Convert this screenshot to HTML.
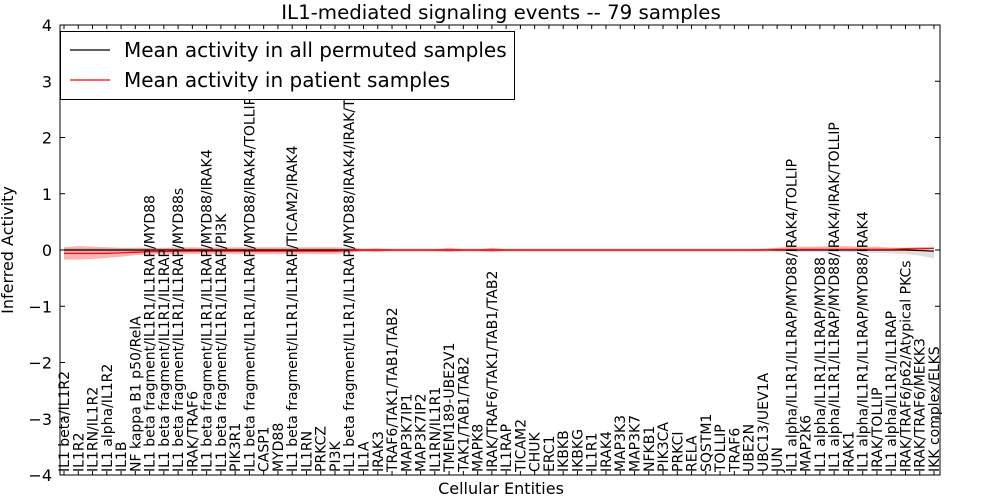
<!DOCTYPE html>
<html><head><meta charset="utf-8"><style>
html,body{margin:0;padding:0;background:#fff;}
svg{display:block;font-family:"DejaVu Sans","Liberation Sans",sans-serif;}
</style></head><body>
<svg id="chart" width="1000" height="500" xmlns="http://www.w3.org/2000/svg"></svg>
<script>
const categories=["IL1 beta/IL1R2","IL1R2","IL1RN/IL1R2","IL1 alpha/IL1R2","IL1B","NF kappa B1 p50/RelA","IL1 beta fragment/IL1R1/IL1RAP/MYD88","IL1 beta fragment/IL1R1/IL1RAP","IL1 beta fragment/IL1R1/IL1RAP/MYD88s","IRAK/TRAF6","IL1 beta fragment/IL1R1/IL1RAP/MYD88/IRAK4","IL1 beta fragment/IL1R1/IL1RAP/PI3K","PIK3R1","IL1 beta fragment/IL1R1/IL1RAP/MYD88/IRAK4/TOLLIP","CASP1","MYD88","IL1 beta fragment/IL1R1/IL1RAP/TICAM2/IRAK4","IL1RN","PRKCZ","PI3K","IL1 beta fragment/IL1R1/IL1RAP/MYD88/IRAK4/IRAK/TOLLIP","IL1A","IRAK3","TRAF6/TAK1/TAB1/TAB2","MAP3K7IP1","MAP3K7IP2","IL1RN/IL1R1","TMEM189-UBE2V1","TAK1/TAB1/TAB2","MAPK8","IRAK/TRAF6/TAK1/TAB1/TAB2","IL1RAP","TICAM2","CHUK","ERC1","IKBKB","IKBKG","IL1R1","IRAK4","MAP3K3","MAP3K7","NFKB1","PIK3CA","PRKCI","RELA","SQSTM1","TOLLIP","TRAF6","UBE2N","UBC13/UEV1A","JUN","IL1 alpha/IL1R1/IL1RAP/MYD88/IRAK4/TOLLIP","MAP2K6","IL1 alpha/IL1R1/IL1RAP/MYD88","IL1 alpha/IL1R1/IL1RAP/MYD88/IRAK4/IRAK/TOLLIP","IRAK1","IL1 alpha/IL1R1/IL1RAP/MYD88/IRAK4","IRAK/TOLLIP","IL1 alpha/IL1R1/IL1RAP","IRAK/TRAF6/p62/Atypical PKCs","IRAK/TRAF6/MEKK3","IKK complex/ELKS"];
const permMean=[0,0,0,0,0,0,0,0,0,0,0,0,0,0,0,0,0,0,0,0,0,0,0,0,0,0,0,0,0,0,0,0,0,0,0,0,0,0,0,0,0,0,0,0,0,0,0,0,0,0,0,0,0,0,0,0,0,0,0,0,-0.01,-0.02];
const permLow=[-0.03,-0.03,-0.03,-0.03,-0.03,-0.03,-0.03,-0.03,-0.03,-0.03,-0.03,-0.03,-0.03,-0.03,-0.03,-0.03,-0.03,-0.03,-0.03,-0.03,-0.03,-0.04,-0.04,-0.04,-0.04,-0.04,-0.04,-0.04,-0.04,-0.04,-0.04,-0.04,-0.04,-0.04,-0.04,-0.04,-0.04,-0.04,-0.04,-0.04,-0.04,-0.04,-0.04,-0.04,-0.04,-0.04,-0.04,-0.04,-0.04,-0.04,-0.04,-0.04,-0.04,-0.04,-0.04,-0.04,-0.05,-0.05,-0.06,-0.07,-0.1,-0.15];
const permHigh=[0.03,0.03,0.03,0.03,0.03,0.03,0.03,0.03,0.03,0.03,0.03,0.03,0.03,0.03,0.03,0.03,0.03,0.03,0.03,0.03,0.03,0.03,0.03,0.03,0.03,0.03,0.03,0.03,0.03,0.03,0.03,0.03,0.03,0.03,0.03,0.03,0.03,0.03,0.03,0.03,0.03,0.03,0.03,0.03,0.03,0.03,0.03,0.03,0.03,0.03,0.03,0.03,0.03,0.03,0.03,0.03,0.03,0.03,0.04,0.04,0.05,0.06];
const patMean=[-0.06,-0.06,-0.06,-0.06,-0.05,-0.04,-0.03,-0.03,-0.02,-0.02,-0.02,-0.02,-0.02,-0.02,-0.02,-0.02,-0.02,-0.02,-0.02,-0.02,-0.01,0,0,0,0,0,0,0,0,0,0,0,0,0,0,0,0,0,0,0,0,0,0,0,0,0,0,0,0,0,0.01,0.01,0.01,0.01,0.01,0.01,0.01,0.01,0.01,0.02,0.02,0.03];
const patLow=[-0.17,-0.17,-0.16,-0.14,-0.12,-0.09,-0.08,-0.07,-0.07,-0.07,-0.07,-0.07,-0.07,-0.07,-0.07,-0.07,-0.07,-0.07,-0.07,-0.07,-0.05,-0.02,-0.03,-0.01,-0.01,-0.01,-0.01,-0.03,-0.01,-0.01,-0.03,-0.01,-0.01,-0.01,-0.01,-0.01,-0.01,-0.01,-0.01,-0.01,-0.01,-0.01,-0.01,-0.01,-0.01,-0.01,-0.01,-0.01,-0.01,-0.01,0,0,0,0,0,0,0,0,0,0.01,0.01,0.02];
const patHigh=[0.05,0.07,0.06,0.05,0.04,0.04,0.04,0.04,0.05,0.05,0.04,0.05,0.05,0.05,0.05,0.05,0.05,0.05,0.05,0.05,0.04,0.02,0.03,0.01,0.01,0.01,0.01,0.04,0.01,0.01,0.04,0.01,0.01,0.01,0.01,0.01,0.01,0.01,0.01,0.01,0.01,0.01,0.01,0.01,0.01,0.01,0.01,0.01,0.01,0.02,0.04,0.06,0.06,0.06,0.07,0.07,0.05,0.06,0.04,0.04,0.05,0.04];
const yTicks=[-4,-3,-2,-1,0,1,2,3,4];

const NS="http://www.w3.org/2000/svg";
const svg=document.getElementById('chart');
const L=60,R=940,T=25,B=475;
const xs=i=>64+i*(870/(categories.length-1));
const ys=v=>250-v*56.25;
function mk(tag,attrs,parent){const e=document.createElementNS(NS,tag);for(const k in attrs)e.setAttribute(k,attrs[k]);(parent||svg).appendChild(e);return e;}
function band(lo,hi,fill,name){let d='M'+lo.map((v,i)=>xs(i)+','+ys(hi[i])).join('L');for(let i=lo.length-1;i>=0;i--)d+='L'+xs(i)+','+ys(lo[i]);d+='Z';const p=mk('path',{d:d,fill:fill});}
function line(vals,stroke,name){const p=mk('path',{d:'M'+vals.map((v,i)=>xs(i)+','+ys(v)).join('L'),fill:'none',stroke:stroke,'stroke-width':1.2});}
band(permLow,permHigh,'rgba(160,160,160,0.35)','permuted-band');
band(patLow,patHigh,'rgba(255,0,0,0.3)','patient-band');
line(permMean,'#000','permuted-mean-line');
line(patMean,'#f00','patient-mean-line');
const fr=mk('rect',{x:L,y:T,width:R-L,height:B-T,fill:'none',stroke:'#000','stroke-width':1});

yTicks.forEach(v=>{
 mk('line',{x1:L,x2:L+5,y1:ys(v),y2:ys(v),stroke:'#000'});
 mk('line',{x1:R-5,x2:R,y1:ys(v),y2:ys(v),stroke:'#000'});
 const t=mk('text',{x:L-8,y:ys(v)+6,'text-anchor':'end','font-size':16});
 t.textContent=(v<0?'\u2212':'')+Math.abs(v);
 
});
categories.forEach((c,i)=>{
 const x=xs(i);
 mk('line',{x1:x,x2:x,y1:B,y2:B-4,stroke:'#000'});
 mk('line',{x1:x,x2:x,y1:T,y2:T+4,stroke:'#000'});
 const t=mk('text',{x:0,y:0,'font-size':14,transform:'translate('+(x+5)+','+(B-3)+') rotate(-90)'});
 t.textContent=c;
 
});
const title=mk('text',{x:501,y:19,'text-anchor':'middle','font-size':19.8});title.textContent='IL1-mediated signaling events -- 79 samples';

const xt=mk('text',{x:501,y:494,'text-anchor':'middle','font-size':16});xt.textContent='Cellular Entities';

const yt=mk('text',{x:0,y:0,'text-anchor':'middle','font-size':16,transform:'translate(13,250) rotate(-90)'});yt.textContent='Inferred Activity';

const lg=mk('g',{});
mk('rect',{x:60.5,y:31.5,width:454,height:68,fill:'#fff',stroke:'#000'},lg);
mk('line',{x1:70,x2:110,y1:50,y2:50,stroke:'#000','stroke-width':1.2},lg);
mk('line',{x1:70,x2:110,y1:80,y2:80,stroke:'#f00','stroke-width':1.2},lg);
const l1=mk('text',{x:124,y:57,'font-size':20},lg);l1.textContent='Mean activity in all permuted samples';

const l2=mk('text',{x:124,y:87,'font-size':20},lg);l2.textContent='Mean activity in patient samples';

</script>
</body></html>
